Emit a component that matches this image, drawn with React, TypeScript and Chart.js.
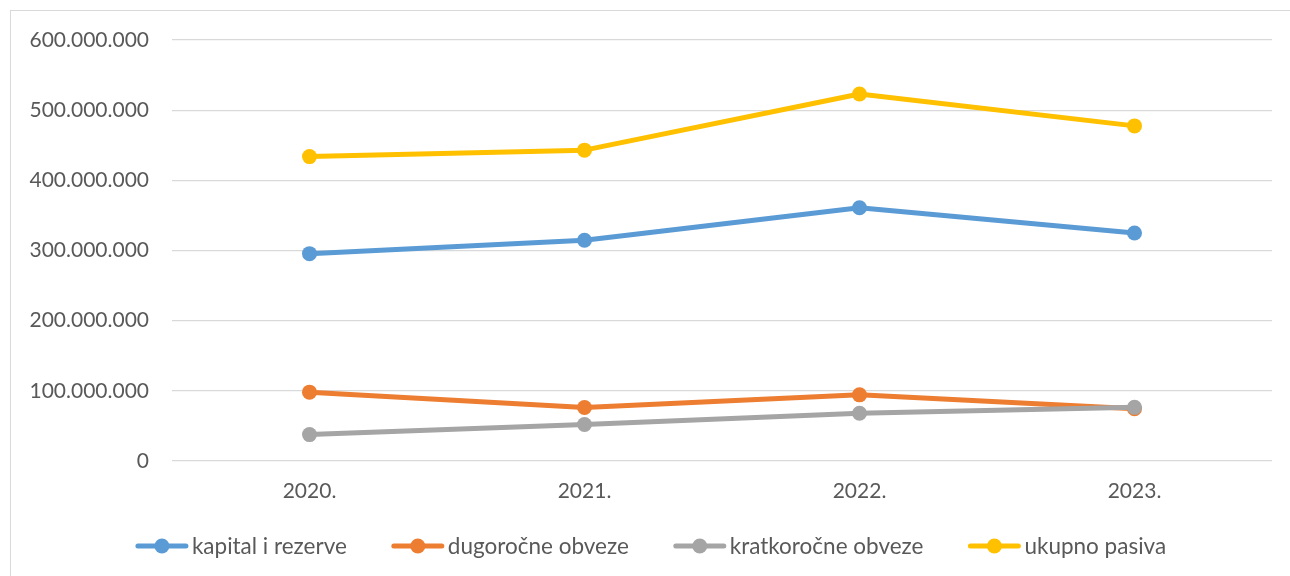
import React, { useEffect, useRef } from "react";
import { Chart, registerables } from "chart.js";

Chart.register(...registerables);

const categories = ["2020.", "2021.", "2022.", "2023."];
const kapitalIRezerve = [295500000, 314700000, 361000000, 325000000];
const dugorocneObveze = [98100000, 76200000, 94300000, 74500000];
const kratkorocneObveze = [37600000, 52000000, 68000000, 76500000];
const ukupnoPasiva = [433800000, 443000000, 523000000, 477600000];
const seriesNames = ["kapital i rezerve", "dugoročne obveze", "kratkoročne obveze", "ukupno pasiva"];
const seriesColors = ["#5B9BD5", "#ED7D31", "#A5A5A5", "#FFC000"];
const yMin = 0;
const yMax = 600000000;
const yStep = 100000000;

const FONT = "Lato, 'Open Sans', sans-serif";
const TEXT = "#595959";
const GRID = "#D9D9D9";

function formatThousands(v: number): string {
  return Math.round(v).toString().replace(/\B(?=(\d{3})+(?!\d))/g, ".");
}

const lineLegend = {
  id: "lineLegend",
  afterDraw(chart: any) {
    const ctx = chart.ctx as CanvasRenderingContext2D;
    ctx.save();
    ctx.font = `22.5px ${FONT}`;
    const iconW = 54;
    const textGap = 3;
    const itemGap = 44;
    const items = chart.data.datasets.map((ds: any) => ({
      label: ds.label as string,
      color: ds.borderColor as string,
      w: ctx.measureText(ds.label).width,
    }));
    const total =
      items.reduce((s: number, it: any) => s + iconW + textGap + it.w, 0) + itemGap * (items.length - 1);
    let x = chart.width / 2 - total / 2;
    const y = chart.height - 30;
    ctx.textBaseline = "middle";
    ctx.textAlign = "left";
    for (const it of items) {
      ctx.strokeStyle = it.color;
      ctx.lineWidth = 5;
      ctx.lineCap = "round";
      ctx.beginPath();
      ctx.moveTo(x + 3, y);
      ctx.lineTo(x + 51, y);
      ctx.stroke();
      ctx.fillStyle = it.color;
      ctx.beginPath();
      ctx.arc(x + 27, y, 7.5, 0, Math.PI * 2);
      ctx.fill();
      ctx.fillStyle = TEXT;
      ctx.fillText(it.label, x + iconW + textGap, y + 1);
      x += iconW + textGap + it.w + itemGap;
    }
    ctx.restore();
  },
};

export default function App() {
  const ref = useRef<HTMLCanvasElement | null>(null);

  useEffect(() => {
    if (!ref.current) return;
    const values = [kapitalIRezerve, dugorocneObveze, kratkorocneObveze, ukupnoPasiva];
    const chart = new Chart(ref.current, {
      type: "line",
      data: {
        labels: categories,
        datasets: values.map((d, i) => ({
          label: seriesNames[i],
          data: d,
          borderColor: seriesColors[i],
          backgroundColor: seriesColors[i],
          borderWidth: 5,
          pointRadius: 7.5,
          pointHoverRadius: 7.5,
          pointBorderWidth: 0,
          pointBackgroundColor: seriesColors[i],
          tension: 0,
          fill: false,
          borderCapStyle: "round",
          borderJoinStyle: "round",
          order: 4 - i,
        })),
      },
      options: {
        animation: false,
        responsive: false,
        maintainAspectRatio: false,
        layout: { padding: { left: 0, right: 18, top: 29, bottom: 72 } },
        scales: {
          x: {
            offset: true,
            grid: { display: false, drawTicks: false },
            border: { display: false },
            ticks: { color: TEXT, font: { family: FONT, size: 21 }, padding: 18 },
            afterFit: (s: any) => {
              s.height = 43;
            },
          },
          y: {
            min: yMin,
            max: yMax,
            grid: { color: GRID, lineWidth: 1.3, drawTicks: false },
            border: { display: false },
            ticks: {
              stepSize: yStep,
              color: TEXT,
              font: { family: FONT, size: 21 },
              padding: 23,
              callback: (v: any) => formatThousands(Number(v)),
            },
            afterFit: (s: any) => {
              s.width = 161;
              s.paddingTop = 0;
              s.paddingBottom = 0;
            },
          },
        },
        plugins: {
          tooltip: { enabled: false },
          legend: { display: false },
        },
      },
      plugins: [lineLegend],
    });
    return () => chart.destroy();
  }, []);

  return (
    <div
      style={{
        position: "fixed",
        left: 10,
        top: 10,
        width: 1280,
        height: 566,
        borderLeft: `1px solid ${GRID}`,
        borderTop: `1px solid ${GRID}`,
        background: "#fff",
      }}
    >
      <canvas ref={ref} width={1279} height={565} style={{ display: "block" }} />
    </div>
  );
}
